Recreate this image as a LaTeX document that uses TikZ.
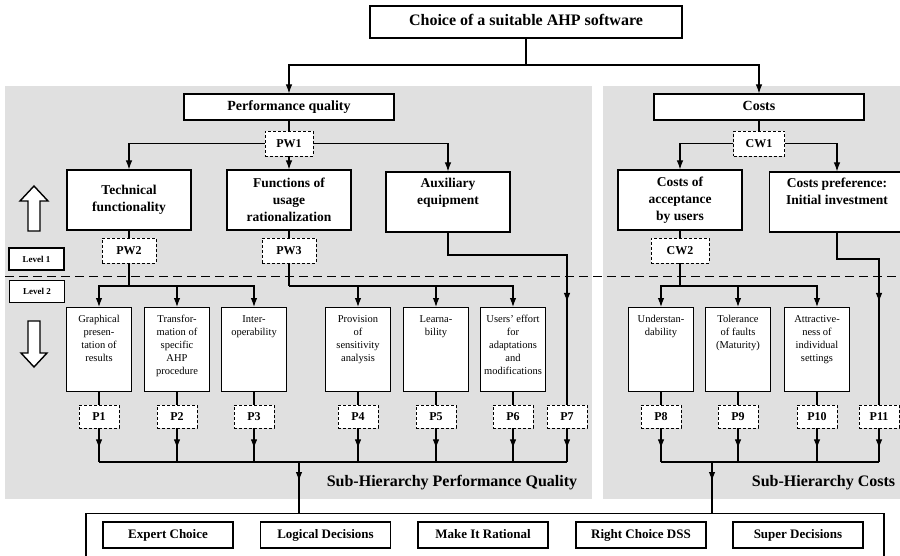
\documentclass[tikz,border=0pt]{standalone}
\usepackage{fontspec}
\setmainfont{Liberation Serif}
\usetikzlibrary{arrows.meta}
\definecolor{panelgray}{RGB}{224,224,224}
\newcommand{\critxt}[1]{\parbox[t][68pt][t]{60pt}{\centering #1}}
\begin{document}
\begin{tikzpicture}[
                    x=1pt, y=-1pt,
                    >={Latex[length=9pt,width=6.5pt]},
                    line width=1.1pt,
                    goal/.style={draw, fill=white, minimum width=312pt, minimum height=32pt, text height=11pt, text depth=3pt, font=\fontsize{16}{19}\selectfont\bfseries},
                    branch/.style={draw, fill=white, minimum width=210pt, minimum height=26pt, text height=10pt, text depth=3pt, font=\fontsize{14}{16}\selectfont\bfseries},
                    crit/.style={draw, fill=white, minimum width=124pt, minimum height=60pt, align=center, font=\fontsize{13.5}{17}\selectfont\bfseries},
                    subcrit/.style={draw, fill=white, anchor=north, inner xsep=2.5pt, inner ysep=8pt, font=\fontsize{10.5}{12.9}\selectfont},
                    weight/.style={draw, fill=white, line width=0.8pt, dash pattern=on 3pt off 2pt, minimum width=54pt, minimum height=25pt, text height=8.5pt, text depth=0pt, font=\fontsize{12}{14}\selectfont\bfseries},
                    pweight/.style={weight, minimum width=40pt, minimum height=23pt},
                    level/.style={draw, fill=white, line width=1.4pt, minimum width=55pt, minimum height=22pt, text height=6.5pt, text depth=0pt, font=\fontsize{9}{11}\selectfont\bfseries},
                    tool/.style={draw, fill=white, minimum width=130pt, minimum height=26pt, text height=9pt, text depth=3pt, font=\fontsize{13}{15}\selectfont\bfseries},
                    hollow/.style={draw, fill=white, line width=1.4pt}
                ]
                \clip (0,0) rectangle (900,556);
                % Panels
                \fill[panelgray] (5,86) rectangle (592,499);
                \fill[panelgray] (603,86) rectangle (901,499);
                \draw[line width=1pt, dash pattern=on 9pt off 5pt] (5,277) -- (901,277);

                % Blocks
                \node[goal] (goal) at (526,22) {Choice of a suitable AHP software};
                \node[branch] (perf) at (289,107) {Performance quality};
                \node[branch] (costs) at (759,107) {Costs};
                \node[weight, minimum width=48pt] (pw1) at (289,143.5) {PW1};
                \node[weight, minimum width=51pt] (cw1) at (759,143.5) {CW1};

                \node[crit] (tech) at (129,200) {Technical\\functionality};
                \node[crit] (func) at (289,200) {Functions of\\usage\\rationalization};
                \node[crit] (aux) at (448,202) {Auxiliary\\equipment\\\strut};
                \node[crit] (accept) at (680,200) {Costs of\\acceptance\\by users};
                \node[crit, minimum width=135pt] (invest) at (837,202) {Costs preference:\\Initial investment\\\strut};

                \node[weight] (pw2) at (129,250.5) {PW2};
                \node[weight] (pw3) at (289,250.5) {PW3};
                \node[weight, minimum width=58pt] (cw2) at (680,250.5) {CW2};

                \node[level] (lv1) at (36.5,259) {Level 1};
                \node[level] (lv2) at (37,291.5) {Level 2};

                \node[subcrit] (c1) at (99,307) {\critxt{Graphical\\presen-\\tation of\\results}};
                \node[subcrit] (c2) at (177,307) {\critxt{Transfor-\\mation of\\specific\\AHP\\procedure}};
                \node[subcrit] (c3) at (254,307) {\critxt{Inter-\\operability}};
                \node[subcrit] (c4) at (358,307) {\critxt{Provision\\of\\sensitivity\\analysis}};
                \node[subcrit] (c5) at (436,307) {\critxt{Learna-\\bility}};
                \node[subcrit] (c6) at (513,307) {\critxt{Users' effort\\for\\adaptations\\and\\modifications}};
                \node[subcrit] (c8) at (661,307) {\critxt{Understan-\\dability}};
                \node[subcrit] (c9) at (738,307) {\critxt{Tolerance\\of faults\\(Maturity)}};
                \node[subcrit] (c10) at (817,307) {\critxt{Attractive-\\ness of\\individual\\settings}};

                \node[pweight] (p1) at (99,416.5) {P1};
                \node[pweight] (p2) at (177,416.5) {P2};
                \node[pweight] (p3) at (254,416.5) {P3};
                \node[pweight] (p4) at (358,416.5) {P4};
                \node[pweight] (p5) at (436,416.5) {P5};
                \node[pweight] (p6) at (513,416.5) {P6};
                \node[pweight] (p7) at (567,416.5) {P7};
                \node[pweight] (p8) at (661,416.5) {P8};
                \node[pweight] (p9) at (738,416.5) {P9};
                \node[pweight] (p10) at (817,416.5) {P10};
                \node[pweight] (p11) at (879,416.5) {P11};

                \node[anchor=east, font=\fontsize{16}{19}\selectfont\bfseries] (subperf) at (581,483) {Sub-Hierarchy Performance Quality};
                \node[anchor=east, font=\fontsize{16}{19}\selectfont\bfseries] (subcost) at (899,483) {Sub-Hierarchy Costs};

                \node[draw, fill=white, minimum width=798pt, minimum height=60pt, anchor=north] (tools) at (485,513) {};
                \node[tool] (t1) at (168,535) {Expert Choice};
                \node[tool] (t2) at (325.5,535) {Logical Decisions};
                \node[tool] (t3) at (483,535) {Make It Rational};
                \node[tool] (t4) at (641,535) {Right Choice DSS};
                \node[tool] (t5) at (798,535) {Super Decisions};

                % Level arrows
                \draw[hollow] (34,186) -- (48,201) -- (40,201) -- (40,231) -- (28,231) -- (28,201) -- (20,201) -- cycle;
                \draw[hollow] (34,367) -- (47,353) -- (40,353) -- (40,321) -- (28,321) -- (28,353) -- (21,353) -- cycle;

                % Connections
                \coordinate (split) at (526,65);
                \draw (goal) -- (split);
                \draw[->] (split) -| (perf);
                \draw[->] (split) -| (costs);
                \draw (perf) -- (pw1);
                \draw (costs) -- (cw1);
                \draw[->] (pw1) -- (func);
                \draw[->] (pw1) -| (tech);
                \draw[->] (pw1) -| (aux);
                \draw[->] (cw1) -| (accept);
                \draw[->] (cw1) -| (invest);

                \draw (tech) -- (pw2);
                \draw (func) -- (pw3);
                \draw (accept) -- (cw2);
                \coordinate (pw2fork) at (129,286);
                \coordinate (pw3fork) at (289,286);
                \coordinate (cw2fork) at (680,286);
                \draw (pw2) -- (pw2fork);
                \draw (pw3) -- (pw3fork);
                \draw (cw2) -- (cw2fork);
                \foreach \c in {c1,c2,c3} \draw[->] (pw2fork) -| (\c);
                \foreach \c in {c4,c5,c6} \draw[->] (pw3fork) -| (\c);
                \foreach \c in {c8,c9,c10} \draw[->] (cw2fork) -| (\c);

                \coordinate (auxbend) at (448,255);
                \coordinate (investbend) at (837,259);
                \draw (aux) -- (auxbend) -| (p7);
                \draw[->] (auxbend -| p7) -- ++(0,47);
                \draw (invest) -- (investbend) -| (p11);
                \draw[->] (investbend -| p11) -- ++(0,43);

                \foreach \c/\p in {c1/p1,c2/p2,c3/p3,c4/p4,c5/p5,c6/p6,c8/p8,c9/p9,c10/p10} \draw (\c) -- (\p);

                \coordinate (collectP) at (299,462);
                \coordinate (collectC) at (712,462);
                \foreach \p in {p1,p2,p3,p4,p5,p6,p7} {
                    \draw (\p) -- (\p |- collectP);
                    \draw[->] (\p.south) -- ++(0,20);
                }
                \draw (p1 |- collectP) -- (p7 |- collectP);
                \foreach \p in {p8,p9,p10,p11} {
                    \draw (\p) -- (\p |- collectC);
                    \draw[->] (\p.south) -- ++(0,20);
                }
                \draw (p8 |- collectC) -- (p11 |- collectC);
                \draw (collectP) -- (collectP |- tools.north);
                \draw[->] (collectP) -- ++(0,19);
                \draw (collectC) -- (collectC |- tools.north);
                \draw[->] (collectC) -- ++(0,19);
            \end{tikzpicture}
\end{document}
